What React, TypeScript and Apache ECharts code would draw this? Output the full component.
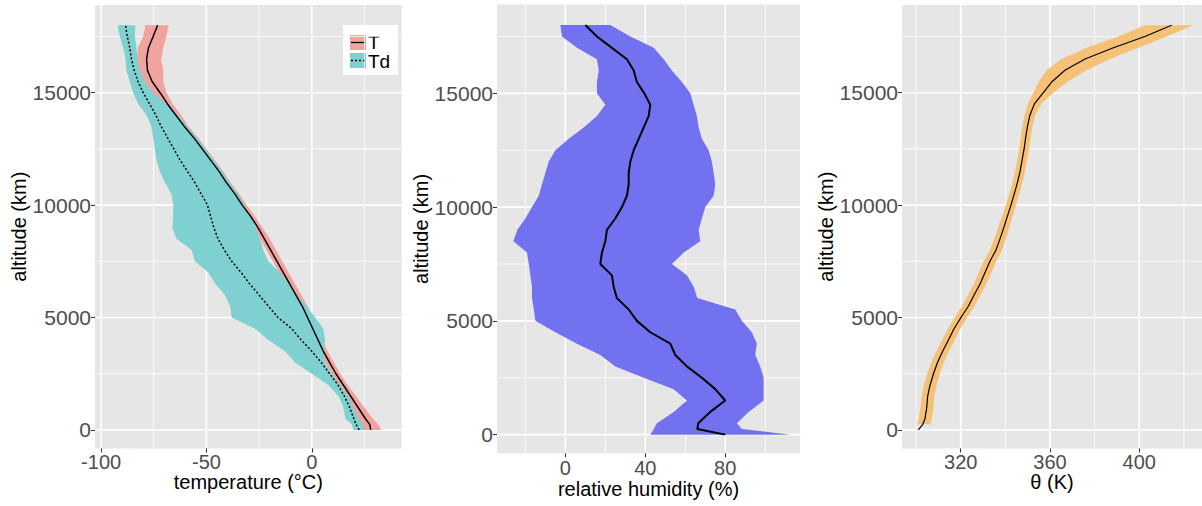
import React, { useEffect, useRef } from "react";
import * as echarts from "echarts";

// ---------- data ----------
const altitude = [0, 250, 500, 1000, 1500, 2000, 2500, 3000, 3500, 4000, 4500, 5000, 5500, 6000, 6500, 7000, 7500, 8000, 8500, 9000, 9500, 10000, 10500, 11000, 11500, 12000, 12500, 13000, 13500, 14000, 14500, 15000, 15500, 16000, 16500, 17000, 17500, 18000];

const tMean = [28, 27.5, 25.5, 22, 18.5, 15, 11.5, 8.5, 5.5, 3, 0.5, -2, -4.5, -7.5, -10.5, -13.5, -16.5, -19.5, -22.5, -25.5, -29, -33, -36.5, -40.5, -44, -48, -52, -56, -60.5, -64.5, -68.5, -72, -75.8, -78, -78.4, -77.5, -75.3, -73.2];
const tLow = [23, 22.5, 21.5, 19.5, 16.5, 13, 9.5, 6.5, 3.5, 1, -1.5, -4, -6.5, -9.5, -12.5, -15.5, -18.5, -21.5, -24.5, -27.5, -31, -35, -38.5, -42.5, -46, -50, -54, -58, -62.5, -67, -72, -77, -81, -82.5, -83, -82.5, -80, -79];
const tHigh = [33, 31.5, 29, 25, 21, 17, 13.5, 10.5, 7.5, 5, 2.5, 0.5, -2, -5, -8, -11, -14, -17, -20, -23.5, -27, -31, -34.5, -38.5, -42, -46, -50, -54, -58.5, -62, -66, -69, -70.5, -70.5, -71.5, -70.5, -69, -68];

const tdMean = [22.5, 21, 20, 18, 15.5, 12.5, 8.5, 4.5, 0, -5, -9.5, -16, -20.5, -25, -29.5, -33.5, -38, -41.5, -44.5, -46.5, -48, -49.5, -52.5, -55.5, -59, -62.5, -65.5, -68.5, -71.5, -74, -77, -80, -82.5, -84.3, -85.6, -86.4, -87.6, -88.4];
const tdLow = [19.8, 19, 16, 15, 12.7, 7.9, 0, -7.9, -12.7, -20.6, -26.9, -38, -38.8, -41.2, -45.9, -49.1, -55.5, -57, -64.2, -66.2, -65.8, -65.8, -66.6, -69.7, -72.1, -73.7, -74.5, -75.3, -76.1, -78.4, -82.4, -84.8, -86.4, -88, -88.4, -89.5, -91.1, -92.2];
const tdHigh = [24.6, 24.5, 22.2, 19.8, 17.4, 13.5, 9.5, 6.3, 5.5, 6.3, 5.5, 1.6, -2.4, -7.1, -11.1, -15.1, -20.6, -23, -24.6, -26.5, -29, -32, -35, -39, -42.5, -46.5, -50.5, -54.5, -59, -63.5, -69, -75.3, -79.2, -81.6, -82.7, -83.2, -84, -83.7];

const rhMean = [80, 66, 66.5, 72.5, 80, 75, 68.3, 60.8, 55, 52.5, 42.5, 35.8, 31.7, 25.8, 24.2, 23.3, 17.5, 18.3, 20, 20.8, 25, 28.3, 30.8, 31.7, 31.7, 32.5, 34.2, 36.7, 39.2, 41.7, 42.5, 39.5, 35.8, 34.2, 30.8, 23.3, 15.8, 10];
const rhLow = [42.5, 44.2, 45.8, 54.2, 60.8, 54.2, 39.2, 25, 17.5, 5.8, -5, -15, -15.8, -16.7, -16.7, -17.5, -18.3, -19.2, -26, -24, -20, -16.7, -13.3, -11.7, -10, -8.3, -5, 1.7, 9.2, 15.8, 20, 15.8, 15.8, 16.7, 15.8, 5.8, -1.7, -2.5];
const rhHigh = [112.5, 88.3, 85.8, 91.7, 99.2, 99.2, 99.2, 97.5, 95, 95.8, 93.3, 88.3, 85, 66, 64.2, 60.8, 53.3, 59.2, 67.5, 66.7, 68.3, 70, 74.2, 75, 74.2, 73.3, 71.7, 68.3, 66.7, 65.8, 64.2, 62.5, 58.3, 53.3, 49.2, 44.2, 32.5, 22.5];

const thetaMean = [301, 303, 304, 304.8, 305.2, 306.3, 307.8, 309.6, 311.9, 314.5, 317, 320.1, 323.4, 326, 328.7, 330.9, 333.1, 335.8, 337.6, 339.3, 340.9, 342.5, 344, 345.4, 346.6, 347.5, 348.4, 349.1, 349.9, 351, 353, 357, 361, 366.7, 375.7, 388.4, 402.5, 414.5];
const thetaLow = [null, 300.6, 301.2, 302, 302.5, 303.5, 305, 306.8, 309.1, 311.7, 314.2, 317.3, 320.6, 323.2, 325.9, 328.1, 330.3, 333.1, 335, 336.8, 338.5, 340.2, 341.8, 343.2, 344.4, 345.3, 346.2, 346.9, 347.6, 348.6, 350, 352.5, 355, 358.5, 365.2, 376.4, 390.6, 402.5];
const thetaHigh = [null, 306.6, 307, 307.8, 308.2, 309.2, 310.6, 312.4, 314.7, 317.3, 319.8, 322.9, 326.2, 328.8, 331.5, 333.7, 335.9, 338.5, 340.2, 341.8, 343.3, 344.8, 346.2, 347.6, 348.8, 349.7, 350.6, 351.3, 352.2, 353.4, 356, 361.5, 368, 376.4, 386.9, 399.6, 412.2, 424.2];

const altMajorTicks = [0, 5000, 10000, 15000];
const altMinorTicks = [2500, 7500, 12500, 17500];
const tempMajorTicks = [-100, -50, 0];
const tempMinorTicks = [-75, -25, 25];
const rhMajorTicks = [0, 40, 80];
const rhMinorTicks = [-20, 20, 60, 100];
const thetaMajorTicks = [320, 360, 400];
const thetaMinorTicks = [300, 340, 380, 420];

// ---------- styling ----------
const FONT = "Liberation Sans, Arial, Helvetica, sans-serif";
const PANEL_BG = "#E6E6E6";
const RED_FILL = "#F2A39E";
const TEAL_FILL = "#7FD0D1";
const BLUE_FILL = "#7272F0";
const ORANGE_FILL = "#F4C176";

const ALT_RANGE: [number, number] = [-820, 18900];
const X_RANGES: [number, number][] = [
  [-102.9, 42.7],
  [-34.2, 117.4],
  [293.7, 428.1],
];

function pairs(xs: (number | null)[], ys: number[]) {
  const out: number[][] = [];
  xs.forEach((x, i) => {
    if (x !== null) out.push([x, ys[i]]);
  });
  return out;
}

function ribbonSeries(idx: number, lo: (number | null)[], hi: (number | null)[], color: string, z: number) {
  const lower = pairs(lo, altitude);
  const upper = pairs(hi, altitude);
  return {
    type: "custom",
    xAxisIndex: idx,
    yAxisIndex: idx,
    z,
    silent: true,
    data: [[lower[0][0], lower[0][1]]],
    renderItem: (_p: any, api: any) => {
      const pts = [...upper.map((p) => api.coord(p)), ...lower.slice().reverse().map((p) => api.coord(p))];
      return { type: "polygon", shape: { points: pts }, style: { fill: color } };
    },
  };
}

function gridLinesSeries(idx: number, xMajor: number[], xMinor: number[]) {
  const xr = X_RANGES[idx];
  const items: number[][] = [
    ...xMinor.map((v) => [v, 0, 0]),
    ...altMinorTicks.map((v) => [v, 1, 0]),
    ...xMajor.map((v) => [v, 0, 1]),
    ...altMajorTicks.map((v) => [v, 1, 1]),
  ];
  return {
    type: "custom",
    xAxisIndex: idx,
    yAxisIndex: idx,
    z: 0,
    silent: true,
    clip: true,
    encode: { x: -1, y: -1 },
    data: items,
    renderItem: (_p: any, api: any) => {
      const v = api.value(0);
      const dir = api.value(1);
      const major = api.value(2);
      const a = dir === 0 ? api.coord([v, ALT_RANGE[0]]) : api.coord([xr[0], v]);
      const b = dir === 0 ? api.coord([v, ALT_RANGE[1]]) : api.coord([xr[1], v]);
      return {
        type: "line",
        shape: { x1: a[0], y1: a[1], x2: b[0], y2: b[1] },
        style: { stroke: "#FFFFFF", lineWidth: major ? 1.6 : 0.8 },
      };
    },
  };
}

function lineSeries(idx: number, xs: number[], color: string, width: number, type: any) {
  return {
    type: "line",
    xAxisIndex: idx,
    yAxisIndex: idx,
    z: 5,
    silent: true,
    showSymbol: false,
    symbol: "none",
    data: pairs(xs, altitude),
    lineStyle: { color, width, type },
  };
}

const plain = (v: number) => String(v);

function xAxis(idx: number, ticks: number[], name: string, labelMargin: number, nameGap: number) {
  return {
    type: "value",
    gridIndex: idx,
    position: "bottom",
    min: X_RANGES[idx][0],
    max: X_RANGES[idx][1],
    axisLine: { show: false, onZero: false },
    axisTick: { show: true, customValues: ticks, length: 4, lineStyle: { color: "#333333", width: 1 } },
    axisLabel: { customValues: ticks, formatter: plain, color: "#4D4D4D", fontSize: 20, fontFamily: FONT, margin: labelMargin },
    splitLine: { show: false },
    name,
    nameLocation: "middle",
    nameGap,
    nameMoveOverlap: false,
    nameTextStyle: { color: "#000000", fontSize: 20, fontFamily: FONT },
  };
}

function yAxis(idx: number, nameGap: number) {
  return {
    type: "value",
    gridIndex: idx,
    position: "left",
    min: ALT_RANGE[0],
    max: ALT_RANGE[1],
    axisLine: { show: false, onZero: false },
    axisTick: { show: true, customValues: altMajorTicks, length: 4, lineStyle: { color: "#333333", width: 1 } },
    axisLabel: { customValues: altMajorTicks, formatter: plain, color: "#4D4D4D", fontSize: 21, fontFamily: FONT, margin: 4 },
    splitLine: { show: false },
    name: "altitude (km)",
    nameLocation: "middle",
    nameGap,
    nameTextStyle: { color: "#000000", fontSize: 20, fontFamily: FONT },
  };
}

export default function App() {
  const ref = useRef<HTMLDivElement>(null);
  useEffect(() => {
    if (!ref.current) return;
    const chart = echarts.init(ref.current, undefined, { renderer: "svg" });
    const gridBase = { show: true, backgroundColor: PANEL_BG, borderWidth: 0, containLabel: false };
    const option: any = {
      animation: false,
      grid: [
        { ...gridBase, left: 95, top: 5, width: 306.7, height: 443.4 },
        { ...gridBase, left: 497, top: 4.6, width: 303, height: 448.7 },
        { ...gridBase, left: 902, top: 5, width: 300, height: 443.4 },
      ],
      xAxis: [
        xAxis(0, tempMajorTicks, "temperature (°C)", 3.1, 24),
        xAxis(1, rhMajorTicks, "relative humidity (%)", 4.5, 25.5),
        xAxis(2, thetaMajorTicks, "θ (K)", 3.1, 24),
      ],
      yAxis: [yAxis(0, 55), yAxis(1, 59), yAxis(2, 55)],
      series: [
        gridLinesSeries(0, tempMajorTicks, tempMinorTicks),
        gridLinesSeries(1, rhMajorTicks, rhMinorTicks),
        gridLinesSeries(2, thetaMajorTicks, thetaMinorTicks),
        ribbonSeries(0, tLow, tHigh, RED_FILL, 2),
        ribbonSeries(0, tdLow, tdHigh, TEAL_FILL, 3),
        lineSeries(0, tMean, "#000000", 1.5, "solid"),
        lineSeries(0, tdMean, "#000000", 1.5, [2, 2]),
        ribbonSeries(1, rhLow, rhHigh, BLUE_FILL, 2),
        lineSeries(1, rhMean, "#000000", 2, "solid"),
        ribbonSeries(2, thetaLow, thetaHigh, ORANGE_FILL, 2),
        lineSeries(2, thetaMean, "#000000", 1.2, "solid"),
      ],
      graphic: [
        {
          type: "group",
          left: 343,
          top: 25,
          z: 100,
          children: [
            { type: "rect", shape: { x: 0, y: 0, width: 55, height: 50 }, style: { fill: "#FFFFFF" } },
            { type: "rect", shape: { x: 7, y: 10, width: 16, height: 15 }, style: { fill: RED_FILL } },
            { type: "line", shape: { x1: 8, y1: 17.5, x2: 22, y2: 17.5 }, style: { stroke: "#000", lineWidth: 1.3 } },
            { type: "rect", shape: { x: 7, y: 28, width: 16, height: 15 }, style: { fill: TEAL_FILL } },
            { type: "line", shape: { x1: 8, y1: 35.5, x2: 22, y2: 35.5 }, style: { stroke: "#000", lineWidth: 1.3, lineDash: [2, 2] } },
            { type: "text", x: 25, y: 17, style: { text: "T", fontSize: 19, lineHeight: 18, fontFamily: FONT, fill: "#000", verticalAlign: "middle", align: "left" } },
            { type: "text", x: 25, y: 36, style: { text: "Td", fontSize: 19, lineHeight: 18, fontFamily: FONT, fill: "#000", verticalAlign: "middle", align: "left" } },
          ],
        },
      ],
    };
    chart.setOption(option);
    return () => chart.dispose();
  }, []);
  return <div ref={ref} style={{ width: 1202, height: 506, position: "absolute", left: 0, top: 0 }} />;
}
